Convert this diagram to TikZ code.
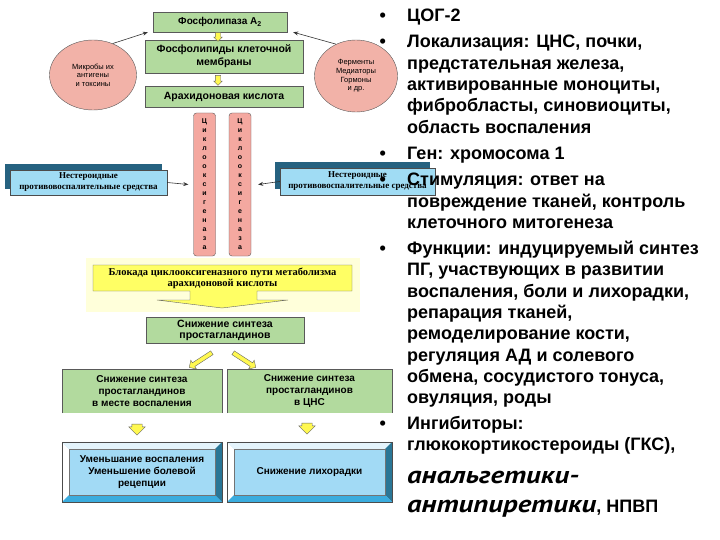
\documentclass[tikz,border=0pt]{standalone}
\usepackage{fontspec}
\setmainfont{Liberation Sans}
\newfontfamily\dserif{Liberation Serif}
\newfontfamily\itfont[FakeStretch=1.2]{PT Sans}
\usetikzlibrary{arrows.meta,shapes.geometric,shapes.arrows,shadows,calc,positioning}

\definecolor{boxgreen}{RGB}{178,218,158}
\definecolor{cirpink}{RGB}{242,178,168}
\definecolor{coxpink}{RGB}{244,168,160}
\definecolor{nsblue}{RGB}{160,220,244}
\definecolor{nsdark}{RGB}{38,98,128}
\definecolor{bevface}{RGB}{162,218,245}
\definecolor{bevtop}{RGB}{228,244,252}
\definecolor{bevright}{RGB}{42,118,150}
\definecolor{bevbot}{RGB}{58,172,222}
\definecolor{arryel}{RGB}{255,248,80}
\definecolor{blkyel}{RGB}{255,255,100}
\definecolor{glowyel}{RGB}{255,255,218}

% bevelled frame round a node
\newcommand{\bevframe}[1]{%
  \fill[white] (#1.north west) -- (#1.south west) -- ([shift={(7pt,7pt)}]#1.south west) -- ([shift={(7pt,-7pt)}]#1.north west) -- cycle;
  \fill[bevtop] (#1.north west) -- (#1.north east) -- ([shift={(-7pt,-7pt)}]#1.north east) -- ([shift={(7pt,-7pt)}]#1.north west) -- cycle;
  \fill[bevright] (#1.north east) -- (#1.south east) -- ([shift={(-7pt,7pt)}]#1.south east) -- ([shift={(-7pt,-7pt)}]#1.north east) -- cycle;
  \fill[bevbot] (#1.south west) -- (#1.south east) -- ([shift={(-7pt,7pt)}]#1.south east) -- ([shift={(7pt,7pt)}]#1.south west) -- cycle;
  \draw[black!55] ([shift={(7pt,-7pt)}]#1.north west) rectangle ([shift={(-7pt,7pt)}]#1.south east);
  \draw[black!70] (#1.north west) rectangle (#1.south east);
}

\begin{document}
\begin{tikzpicture}[x=1pt, y=-1pt,
    grn/.style={draw=black!65, fill=boxgreen, align=center, inner sep=1pt, font=\bfseries\fontsize{10}{12}\selectfont},
    cir/.style={ellipse, draw=black!65, fill=cirpink, align=center, inner sep=0pt, font=\fontsize{7.5}{8.7}\selectfont},
    cox/.style={draw=black!65, fill=coxpink, rounded corners=3pt, minimum width=22pt, minimum height=143pt, align=center, inner sep=0pt, font=\bfseries\fontsize{7}{9}\selectfont},
    nsd/.style={draw=black!70, fill=nsblue, align=center, inner sep=1pt, font=\dserif\bfseries\fontsize{9}{11}\selectfont,
        drop shadow={shadow xshift=-5pt, shadow yshift=6pt, fill=nsdark, opacity=1}},
    bev/.style={fill=bevface, align=center, inner sep=1pt, font=\bfseries\fontsize{10}{12}\selectfont},
    yar/.style={single arrow, draw=black!60, fill=arryel, inner sep=0pt},
    arr/.style={-{Stealth[length=5pt,width=4pt]}, black!80, semithick}
]
\useasboundingbox (0,0) rectangle (720,540);

% top chain
\node[grn, minimum width=134pt, minimum height=20pt] (pla) at (220,22) {Фосфолипаза A\textsubscript{2}};
\node[grn, minimum width=158pt, minimum height=33pt, font=\bfseries\fontsize{10.5}{13}\selectfont] (phl) at (224,56.5) {Фосфолипиды клеточной\\мембраны};
\node[grn, minimum width=158pt, minimum height=21pt, font=\bfseries\fontsize{10.5}{13}\selectfont] (ara) at (224,96.5) {Арахидоновая кислота};
\node[yar, rotate=-90, minimum height=9pt, inner ysep=2.5pt, single arrow head extend=1.5pt] (ya1) at (218,35.5) {};
\node[yar, rotate=-90, minimum height=10pt, inner ysep=2.5pt, single arrow head extend=1.5pt] (ya2) at (218,79) {};

\node[cir, minimum width=87pt, minimum height=70pt] (mic) at (93,75) {Микробы их\\антигены\\и токсины};
\node[cir, minimum width=83pt, minimum height=72pt] (fer) at (356,76) {Ферменты\\Медиаторы\\Гормоны\\и др.};
\draw[arr] (mic.58) -- ($(pla.south west)+(-5pt,0)$);
\draw[arr] (fer.122) -- ($(pla.south east)+(6pt,0)$);

% cyclooxygenase
\node[cox] (cox1) at (204.5,184.5) {Ц\\и\\к\\л\\о\\о\\к\\с\\и\\г\\е\\н\\а\\з\\а};
\node[cox] (cox2) at (240,184.5) {Ц\\и\\к\\л\\о\\о\\к\\с\\и\\г\\е\\н\\а\\з\\а};

\node[nsd, minimum width=157pt, minimum height=25pt] (nsl) at (88.5,182.5) {Нестероидные\\противовоспалительные средства};
\node[nsd, minimum width=155pt, minimum height=27pt] (nsr) at (357.5,181.5) {Нестероидные\\противовоспалительные средства};
\draw[arr] (nsl.east) -- ([xshift=-5pt]cox1.west);
\draw[arr] (nsr.west) -- ([xshift=7pt]cox2.east);

% blockade
\fill[glowyel] (86,258) rectangle (360,312);
\filldraw[draw=black!60, fill=blkyel] (93,265) -- (352,265) -- (352,291) -- (257,291) -- (257,300) -- (288,300) -- (222,308)
    -- (157,300) -- (190,300) -- (190,291) -- (93,291) -- cycle;
\node[align=center, inner sep=0pt, font=\dserif\bfseries\fontsize{10.5}{11}\selectfont] (blk) at (222.5,278) {Блокада циклооксигеназного пути метаболизма\\арахидоновой кислоты};

\node[grn, minimum width=158pt, minimum height=26pt, font=\bfseries\fontsize{10.5}{11}\selectfont] (prs) at (225,330) {Снижение синтеза\\простагландинов};
\node[yar, rotate=-147, minimum height=27pt, inner ysep=2pt, single arrow head extend=3pt] (yl) at (201.5,359.5) {};
\node[yar, rotate=-33, minimum height=27pt, inner ysep=2pt, single arrow head extend=3pt] (yr) at (243.5,359.5) {};

% effects
\node[grn, draw=none, minimum width=160pt, minimum height=44pt] (lft) at (142,391) {Снижение синтеза\\простагландинов\\в месте воспаления};
\node[grn, draw=none, minimum width=165pt, minimum height=44pt] (rgt) at (309.5,391) {Снижение синтеза\\простагландинов\\в ЦНС};
\draw[black!65] (lft.south west) |- (lft.north east) -- (lft.south east);
\draw[black!65] (rgt.south west) |- (rgt.north east) -- (rgt.south east);
\node[yar, rotate=-90, minimum height=11pt, inner ysep=5pt, single arrow head extend=3pt] (ya3) at (137,427) {};
\node[yar, rotate=-90, minimum height=11pt, inner ysep=5pt, single arrow head extend=3pt] (ya4) at (307,426) {};

\node[bev, minimum width=160pt, minimum height=60pt] (lbv) at (142,472) {Уменьшание воспаления\\Уменьшение болевой\\рецепции};
\node[bev, minimum width=165pt, minimum height=60pt] (rbv) at (309.5,472) {Снижение лихорадки};
\bevframe{lbv}
\bevframe{rbv}

% text column
\node[anchor=north west, inner sep=0pt, font=\bfseries\fontsize{18}{21.3}\selectfont] (txt) at (379.5,6.5) {%
\begin{tabular}{@{}p{27.5pt}@{}l@{}}
• & ЦОГ-2\\[5pt]
• & Локализация: ЦНС, почки,\\
  & предстательная железа,\\
  & активированные моноциты,\\
  & фибробласты, синовиоциты,\\
  & область воспаления\\[5pt]
• & Ген: хромосома 1\\[5pt]
• & Стимуляция: ответ на\\
  & повреждение тканей, контроль\\
  & клеточного митогенеза\\[5pt]
• & Функции: индуцируемый синтез\\
  & ПГ, участвующих в развитии\\
  & воспаления, боли и лихорадки,\\
  & репарация тканей,\\
  & ремоделирование кости,\\
  & регуляция АД и солевого\\
  & обмена, сосудистого тонуса,\\
  & овуляция, роды\\[4pt]
• & Ингибиторы:\\
  & глюкокортикостероиды (ГКС),\\[12pt]
  & {\itfont\itshape\fontsize{24}{27}\selectfont анальгетики-}\\[8pt]
  & {\itfont\itshape\fontsize{24}{27}\selectfont антипиретики}, НПВП
\end{tabular}};
\end{tikzpicture}
\end{document}
